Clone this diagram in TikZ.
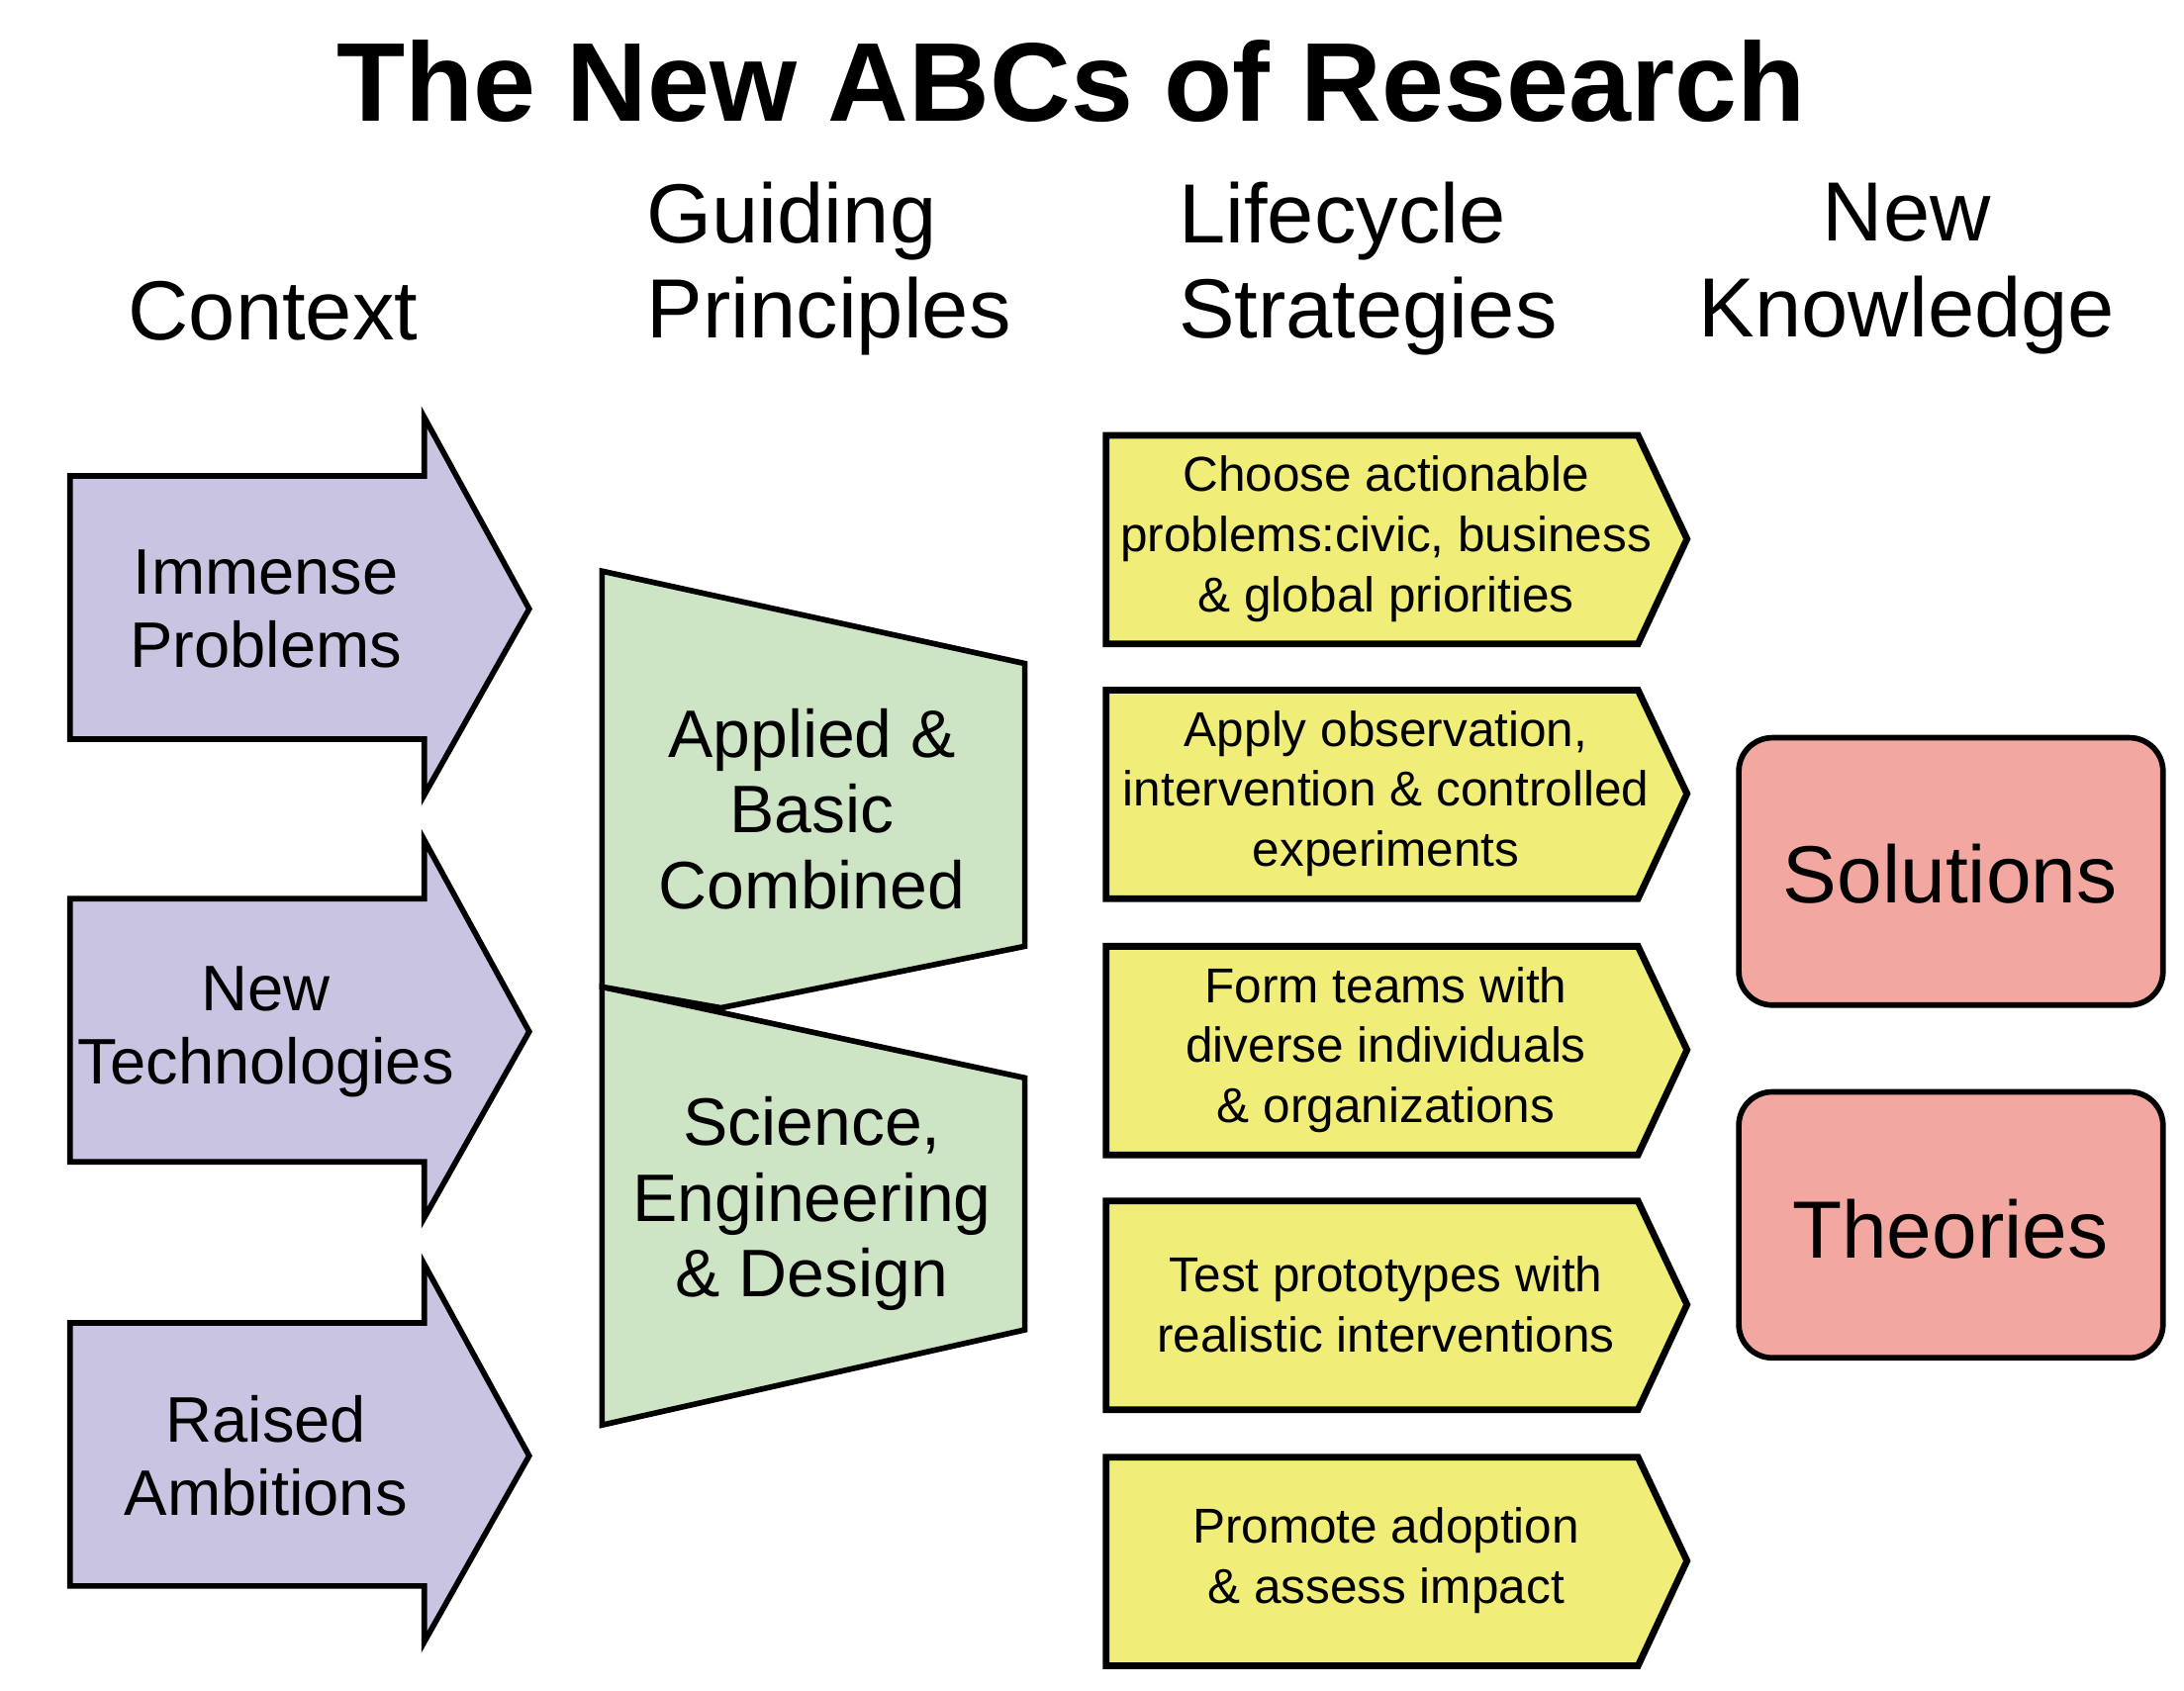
\documentclass[tikz,border=0pt]{standalone}
\usepackage{fontspec}
\setmainfont{Liberation Sans}
\begin{document}
\begin{tikzpicture}[x=0.5pt,y=-0.5pt,
  shp/.style={draw=black,line width=2pt,line join=miter},
  purp/.style={shp,fill=purple!0!white,fill={rgb,255:red,200;green,196;blue,226}},
  grn/.style={shp,fill={rgb,255:red,205;green,229;blue,196}},
  yel/.style={shp,fill={rgb,255:red,240;green,238;blue,120},line width=2.4pt},
  redb/.style={shp,fill={rgb,255:red,242;green,168;blue,160},rounded corners=12pt},
  hdr/.style={font=\fontsize{30}{34}\selectfont},
  ptxt/.style={align=center,font=\fontsize{23}{26}\selectfont},
  ytxt/.style={align=center,font=\fontsize{17.5}{21.5}\selectfont}]
\useasboundingbox (0,0) rectangle (1560,1208);
\node[font=\bfseries\fontsize{40}{44}\selectfont] (title) at (765,58) {The New ABCs of Research};
\node[hdr] (h1) at (195,222) {Context};
\node[hdr,align=left,anchor=west] (h2) at (455,192) {Guiding\\Principles};
\node[hdr,align=left,anchor=west] (h3) at (835,192) {Lifecycle\\Strategies};
\node[hdr,align=center] (h4) at (1362,192) {New\\Knowledge};
% purple arrows
\foreach \t/\c/\n in {435/{Immense\\Problems}/a1,737/{New\\Technologies}/a2,1040/{Raised\\Ambitions}/a3}{
  \draw[purp] (50,\t-95) -- (303,\t-95) -- (303,\t-137) -- (378,\t) -- (303,\t+133) -- (303,\t+93) -- (50,\t+93) -- cycle;
  \node[ptxt] (\n) at (190,\t) {\c};
}
% green trapezoids
\draw[grn] (430,705) -- (732,770) -- (732,950) -- (430,1018) -- cycle;
\draw[grn] (430,408) -- (732,474) -- (732,676) -- (515,720) -- (430,705) -- cycle;
\node[ptxt,font=\fontsize{24}{27}\selectfont] (g1) at (580,578) {Applied \&\\Basic\\Combined};
\node[ptxt,font=\fontsize{24}{27}\selectfont] (g2) at (580,860) {Science,\\Engineering\\\& Design};
% yellow chevrons
\foreach \t/\c/\n in {385/{Choose actionable\\problems:civic, business\\\& global priorities}/y1,
  567/{Apply observation,\\intervention \& controlled\\experiments}/y2,
  750/{Form teams with\\diverse individuals\\\& organizations}/y3,
  932/{Test prototypes with\\realistic interventions}/y4,
  1115/{Promote adoption\\\& assess impact}/y5}{
  \draw[yel] (790,\t-74) -- (1170,\t-74) -- (1205,\t) -- (1170,\t+75) -- (790,\t+75) -- cycle;
  \node[ytxt] (\n) at (990,\t) {\c};
}
% red boxes
\draw[redb] (1242,527) rectangle (1545,718);
\node[font=\fontsize{29}{32}\selectfont] (s) at (1393,624) {Solutions};
\draw[redb] (1242,780) rectangle (1545,970);
\node[font=\fontsize{29}{32}\selectfont] (t) at (1393,878) {Theories};
\end{tikzpicture}
\end{document}
